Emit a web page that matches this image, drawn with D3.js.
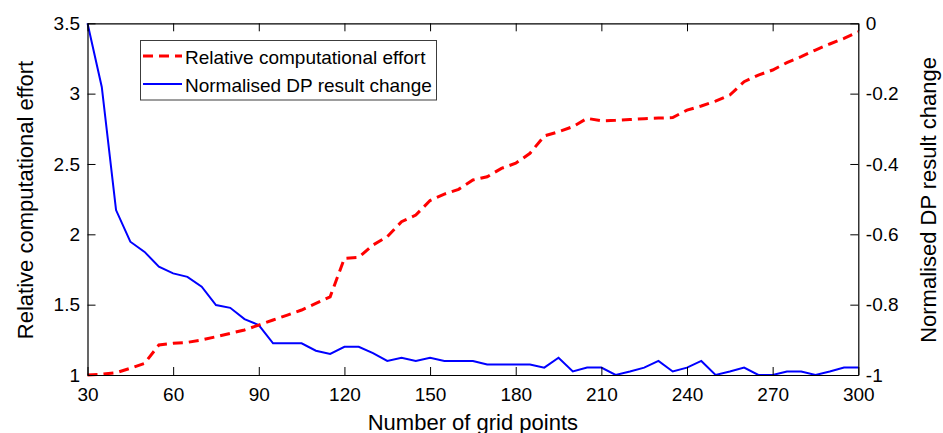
<!DOCTYPE html>
<html>
<head>
<meta charset="utf-8">
<script src="https://cdn.jsdelivr.net/npm/d3@7"></script>
<style>
  body { margin: 0; background: #fff; }
  svg { font-family: "Liberation Sans", Arial, sans-serif; }
</style>
</head>
<body>
<div id="chart"></div>
<script>
const FRAME_WIDTH = 943;
const FRAME_HEIGHT = 433;
const MARGINS = {left: 87.5, right: 84.7, top: 23.3, bottom: 58};
const VIS_WIDTH = FRAME_WIDTH - MARGINS.left - MARGINS.right;
const VIS_HEIGHT = FRAME_HEIGHT - MARGINS.top - MARGINS.bottom;

// data
const gridPoints = [30, 35, 40, 45, 50, 55, 60, 65, 70, 75, 80, 85, 90, 95, 100,
  105, 110, 115, 120, 125, 130, 135, 140, 145, 150, 155, 160, 165, 170, 175, 180,
  185, 190, 195, 200, 205, 210, 215, 220, 225, 230, 235, 240, 245, 250, 255, 260,
  265, 270, 275, 280, 285, 290, 295, 300];

const effort = [1.00, 1.005, 1.016, 1.048, 1.083, 1.213, 1.225, 1.232, 1.249, 1.272,
  1.296, 1.320, 1.355, 1.391, 1.426, 1.462, 1.509, 1.556, 1.829, 1.836, 1.924, 1.983,
  2.090, 2.137, 2.240, 2.286, 2.320, 2.386, 2.409, 2.469, 2.505, 2.576, 2.699, 2.729,
  2.765, 2.824, 2.807, 2.810, 2.816, 2.822, 2.826, 2.830, 2.883, 2.912, 2.947, 2.990,
  3.085, 3.132, 3.168, 3.220, 3.263, 3.310, 3.353, 3.393, 3.440];

const dpChange = [0, -0.181, -0.531, -0.621, -0.650, -0.692, -0.711, -0.721, -0.749,
  -0.801, -0.809, -0.841, -0.858, -0.910, -0.910, -0.910, -0.931, -0.940, -0.920,
  -0.920, -0.938, -0.960, -0.951, -0.960, -0.951, -0.960, -0.960, -0.960, -0.970,
  -0.970, -0.970, -0.970, -0.979, -0.951, -0.990, -0.979, -0.979, -1.0, -0.990,
  -0.979, -0.960, -0.990, -0.979, -0.960, -1.0, -0.990, -0.979, -1.0, -1.0, -0.990,
  -0.990, -1.0, -0.990, -0.979, -0.979];

const xTicks = [30, 60, 90, 120, 150, 180, 210, 240, 270, 300];
const yLeftTicks = [1, 1.5, 2, 2.5, 3, 3.5];
const yRightTicks = [-1, -0.8, -0.6, -0.4, -0.2, 0];
const legendLabels = ["Relative computational effort", "Normalised DP result change"];

const FRAME = d3.select("#chart")
                .append("svg")
                .attr("width", FRAME_WIDTH)
                .attr("height", FRAME_HEIGHT);

const X_SCALE = d3.scaleLinear().domain([30, 300]).range([0, VIS_WIDTH]);
const Y_LEFT = d3.scaleLinear().domain([1, 3.5]).range([VIS_HEIGHT, 0]);
const Y_RIGHT = d3.scaleLinear().domain([-1, 0]).range([VIS_HEIGHT, 0]);

const plot = FRAME.append("g")
                  .attr("transform", "translate(" + MARGINS.left + "," + MARGINS.top + ")");

// lines
const effortLine = d3.line()
                     .x((d, i) => X_SCALE(gridPoints[i]))
                     .y((d) => Y_LEFT(d));
const dpLine = d3.line()
                 .x((d, i) => X_SCALE(gridPoints[i]))
                 .y((d) => Y_RIGHT(d));

plot.append("path")
    .datum(dpChange)
    .attr("d", dpLine)
    .attr("fill", "none")
    .attr("stroke", "#0000ff")
    .attr("stroke-width", 2);

plot.append("path")
    .datum(effort)
    .attr("d", effortLine)
    .attr("fill", "none")
    .attr("stroke", "#ff0000")
    .attr("stroke-width", 3)
    .attr("stroke-dasharray", "10,6");

// axes, ticks pointing in
function styleAxis(g) {
  g.select(".domain").attr("stroke", "#000").attr("stroke-width", 1.2);
  g.selectAll(".tick line").attr("stroke", "#000");
  g.selectAll(".tick text").attr("fill", "#000").attr("font-size", "19px");
  g.attr("font-family", null);
}

const plainFormat = (d) => String(d);   // keep hyphen minus like the original

plot.append("g")
    .attr("transform", "translate(0," + VIS_HEIGHT + ")")
    .call(d3.axisBottom(X_SCALE).tickValues(xTicks).tickSizeInner(-8).tickSizeOuter(0).tickPadding(13).tickFormat(plainFormat))
    .call(styleAxis);

plot.append("g")
    .call(d3.axisTop(X_SCALE).tickValues(xTicks).tickSizeInner(-8).tickSizeOuter(0).tickFormat(""))
    .call(styleAxis);

plot.append("g")
    .call(d3.axisLeft(Y_LEFT).tickValues(yLeftTicks).tickSizeInner(-8).tickSizeOuter(0).tickPadding(7.5).tickFormat(plainFormat))
    .call(styleAxis);

plot.append("g")
    .attr("transform", "translate(" + VIS_WIDTH + ",0)")
    .call(d3.axisRight(Y_RIGHT).tickValues(yRightTicks).tickSizeInner(-8).tickSizeOuter(0).tickPadding(7.5).tickFormat(plainFormat))
    .call(styleAxis);

// axis titles
FRAME.append("text")
     .attr("x", MARGINS.left + VIS_WIDTH / 2)
     .attr("y", 430)
     .attr("text-anchor", "middle")
     .attr("font-size", "22px")
     .text("Number of grid points");

FRAME.append("text")
     .attr("transform", "translate(33,200) rotate(-90)")
     .attr("text-anchor", "middle")
     .attr("font-size", "22px")
     .text("Relative computational effort");

FRAME.append("text")
     .attr("transform", "translate(936,200) rotate(-90)")
     .attr("text-anchor", "middle")
     .attr("font-size", "22px")
     .text("Normalised DP result change");

// legend
const legend = FRAME.append("g");
legend.append("rect")
      .attr("x", 140.5)
      .attr("y", 40.5)
      .attr("width", 296)
      .attr("height", 59.5)
      .attr("fill", "#fff")
      .attr("stroke", "#3c3c3c")
      .attr("stroke-width", 1);

const legendStyles = [
  {color: "#ff0000", width: 3, dash: "10,6"},
  {color: "#0000ff", width: 2, dash: null}
];

legendLabels.forEach((label, i) => {
  const cy = 56 + i * 28;
  legend.append("line")
        .attr("x1", 143).attr("x2", 182)
        .attr("y1", cy).attr("y2", cy)
        .attr("stroke", legendStyles[i].color)
        .attr("stroke-width", legendStyles[i].width)
        .attr("stroke-dasharray", legendStyles[i].dash);
  legend.append("text")
        .attr("x", 185)
        .attr("y", cy + 8)
        .attr("font-size", "19px")
        .text(label);
});
</script>
</body>
</html>
